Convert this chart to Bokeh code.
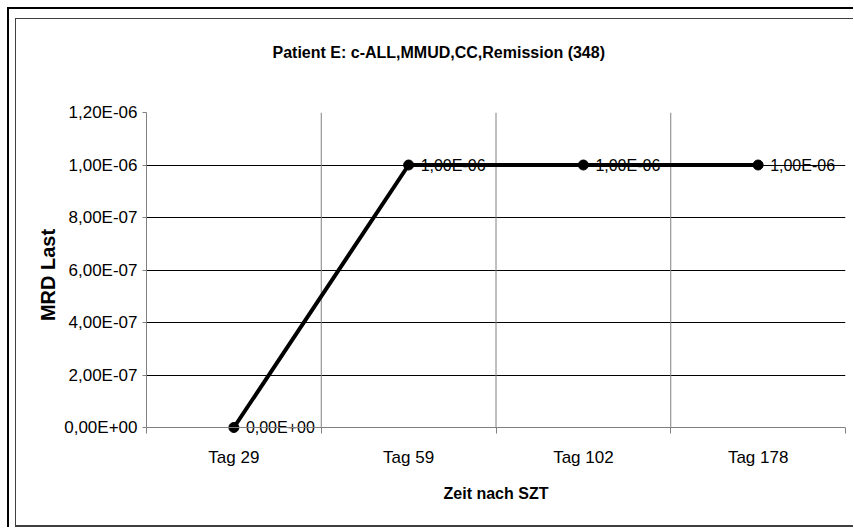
import numpy as np
from bokeh.plotting import figure
from bokeh.models import (ColumnDataSource, Range1d, FixedTicker,
                          CustomJSTickFormatter, Span, Title)
from bokeh.layouts import column
from bokeh.embed import file_html
from bokeh.resources import INLINE
from bokeh.core.properties import value

# ---- data -------------------------------------------------------------
categories = ["Tag 29", "Tag 59", "Tag 102", "Tag 178"]
mrd_load = [0.0, 1.0e-6, 1.0e-6, 1.0e-6]
y_ticks = [0.0, 2.0e-7, 4.0e-7, 6.0e-7, 8.0e-7, 1.0e-6, 1.2e-6]

chart_title = "Patient E: c-ALL,MMUD,CC,Remission (348)"
x_title = "Zeit nach SZT"
y_title = "MRD Last"

FONT = "Liberation Sans"
GREY = "#808080"


def sci_de(v):
    """Scientific notation with a decimal comma, e.g. 1,00E-06."""
    if v == 0:
        return "0,00E+00"
    e = int(np.floor(np.log10(abs(v)) + 1e-9))
    m = round(v / 10 ** e, 2)
    if abs(m) >= 10:
        e += 1
        m = round(v / 10 ** e, 2)
    return f"{m:.2f}".replace(".", ",") + "E" + ("-" if e < 0 else "+") + f"{abs(e):02d}"


n = len(categories)
xs = np.arange(n) + 0.5          # category centres
source = ColumnDataSource(dict(
    x=xs,
    y=mrd_load,
    label=[sci_de(v) for v in mrd_load],
))

# The value axis runs 315 px from 0 to the top tick; the frame reaches a
# little lower so that markers and labels sitting on zero are not cut off.
plot_px = 315
under_px = 10
y_span = y_ticks[-1] - y_ticks[0]
y_pad = y_span * under_px / plot_px

p = figure(
    width=838, height=509,
    x_range=Range1d(0, n), y_range=Range1d(y_ticks[0] - y_pad, y_ticks[-1]),
    output_backend="svg", toolbar_location=None,
    min_border_left=130, min_border_right=9,
    min_border_top=93, min_border_bottom=91,
    background_fill_color="white", border_fill_color="white",
    outline_line_color=None,
)

# ---- title: a blank spacer next to the frame, the heading above it -------
p.add_layout(Title(text=" ", text_font_size="12px", standoff=36), "above")
p.add_layout(Title(text=chart_title, align="left", offset=126, standoff=0,
                   text_font=FONT, text_font_size="16px",
                   text_font_style="bold", text_color="black"), "above")

# ---- x axis: labels at category centres, ticks at category borders ----
xax = p.xaxis[0]
xax.ticker = FixedTicker(ticks=list(xs), minor_ticks=list(range(n + 1)))
xax.formatter = CustomJSTickFormatter(
    args=dict(labels=categories),
    code="return labels[Math.round(tick - 0.5)];")
xax.axis_line_color = None
xax.major_tick_line_color = None
xax.major_tick_in = 0
xax.major_tick_out = 0
# border ticks hang 6 px below the zero line
xax.minor_tick_line_color = GREY
xax.minor_tick_in = under_px
xax.minor_tick_out = 6 - under_px
xax.major_label_standoff = 10
xax.major_label_text_font = FONT
xax.major_label_text_font_size = "17px"
xax.major_label_text_color = "black"
xax.axis_label = x_title
xax.axis_label_text_font = FONT
xax.axis_label_text_font_size = "16px"
xax.axis_label_text_font_style = "bold"
xax.axis_label_text_color = "black"
xax.axis_label_standoff = 15

# zero line acting as the category axis
p.add_layout(Span(location=y_ticks[0], dimension="width",
                  line_color=GREY, line_width=1))

# ---- y axis -------------------------------------------------------------
yax = p.yaxis[0]
yax.bounds = (y_ticks[0], y_ticks[-1])
yax.ticker = FixedTicker(ticks=y_ticks)
yax.formatter = CustomJSTickFormatter(code="""
    if (Math.abs(tick) < 1e-20) return "0,00E+00";
    let e = Math.floor(Math.log10(Math.abs(tick)) + 1e-9);
    let s = (tick / Math.pow(10, e)).toFixed(2);
    if (parseFloat(s) >= 10) { e += 1; s = (tick / Math.pow(10, e)).toFixed(2); }
    const es = (e < 0 ? "-" : "+") + String(Math.abs(e)).padStart(2, "0");
    return s.replace(".", ",") + "E" + es;
""")
yax.minor_tick_line_color = None
yax.major_tick_in = 0
yax.major_tick_out = 4
yax.major_tick_line_color = GREY
yax.axis_line_color = GREY
yax.major_label_standoff = 5
yax.major_label_text_font = FONT
yax.major_label_text_font_size = "17px"
yax.major_label_text_color = "black"
yax.axis_label = y_title
yax.axis_label_text_font = FONT
yax.axis_label_text_font_size = "20px"
yax.axis_label_text_font_style = "bold"
yax.axis_label_text_color = "black"
yax.axis_label_standoff = 2

# ---- grids --------------------------------------------------------------
p.xgrid.visible = False
p.ygrid.ticker = FixedTicker(ticks=y_ticks[1:-1])
p.ygrid.grid_line_color = "black"
p.ygrid.grid_line_width = 1

# category dividers, running from zero up to the top tick
borders = list(range(1, n))
p.segment(x0=borders, y0=[y_ticks[0]] * len(borders),
          x1=borders, y1=[y_ticks[-1]] * len(borders),
          line_color=GREY, line_width=1)

# ---- series -------------------------------------------------------------
p.line("x", "y", source=source, line_color="black", line_width=4)
p.scatter("x", "y", source=source, size=10, fill_color="black",
          line_color="black")
p.text("x", "y", text="label", source=source, x_offset=12,
       text_align="left", text_baseline="middle",
       text_font=value(FONT), text_font_size="16px", text_color="black")

# ---- chart frame (double border) -----------------------------------------
p.styles = {
    "border-top": "1px solid #404040",
    "border-left": "1px solid #404040",
    "border-bottom": "2px solid #404040",
}
root = column(p, styles={
    "margin-left": "7px",
    "margin-top": "7px",
    "border-top": "2px solid black",
    "border-left": "2px solid black",
    "padding-left": "6px",
    "padding-top": "9px",
})

open("out.html", "w").write(file_html(root, INLINE))
